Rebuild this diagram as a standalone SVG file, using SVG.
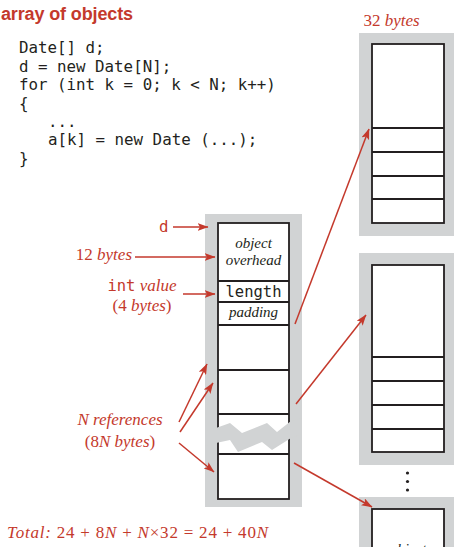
<svg xmlns="http://www.w3.org/2000/svg" width="454" height="547" viewBox="0 0 454 547">
<defs>
<style>
.red{fill:#c4392c}
.title{font-family:"Liberation Sans",Arial,sans-serif;font-weight:bold;font-size:18px}
.code{font-family:"DejaVu Sans Mono","Liberation Mono",monospace;font-size:15.8px;fill:#231f20}
.mono{font-family:"DejaVu Sans Mono","Liberation Mono",monospace}
.lbl{font-family:"Liberation Serif","Times New Roman",serif;font-size:17px;fill:#c4392c}
.it{font-style:italic}
.cell{font-family:"Liberation Serif","Times New Roman",serif;font-style:italic;font-size:15px;fill:#231f20;text-anchor:middle}
.frame{fill:#d1d3d4}
.box{fill:#fff;stroke:#231f20;stroke-width:1.8}
.div{stroke:#231f20;stroke-width:1.8}
.arr{stroke:#c4392c;stroke-width:1.5;fill:none;marker-end:url(#ah)}
</style>
<marker id="ah" markerUnits="userSpaceOnUse" markerWidth="11" markerHeight="8" refX="10.5" refY="4" orient="auto">
<path d="M0,0 L11,4 L0,8 L2.5,4 z" fill="#c4392c"/>
</marker>
</defs>

<text class="title red" x="1" y="20" textLength="132">array of objects</text>

<g id="code" class="code">
<text x="19" y="53.3">Date[] d;</text>
<text x="19" y="71.7">d = new Date[N];</text>
<text x="19" y="90.1">for (int k = 0; k &lt; N; k++)</text>
<text x="19" y="108.5">{</text>
<text x="48" y="126.9">...</text>
<text x="48" y="145.3">a[k] = new Date (...);</text>
<text x="19" y="163.7">}</text>
</g>

<g id="array">
<rect class="frame" x="205" y="214" width="97" height="293"/>
<rect class="box" x="218" y="223" width="71" height="276"/>
<line class="div" x1="218" y1="281" x2="289" y2="281"/>
<line class="div" x1="218" y1="302" x2="289" y2="302"/>
<line class="div" x1="218" y1="325" x2="289" y2="325"/>
<line class="div" x1="218" y1="370" x2="289" y2="370"/>
<line class="div" x1="218" y1="414" x2="289" y2="414"/>
<line class="div" x1="218" y1="454" x2="289" y2="454"/>
<polygon class="frame" points="205,431 216,428 230,423 242,433 267,423 277,432 291,421 302,418 302,434 291,438 272,450 262,442 238,452 230,440 216,443 205,446"/>
<text class="cell" x="253.5" y="248">object</text>
<text class="cell" x="253.5" y="265">overhead</text>
<text class="mono" x="253.5" y="297" font-size="15.5" fill="#231f20" text-anchor="middle">length</text>
<text class="cell" x="253.5" y="317">padding</text>
</g>

<g id="obj1">
<text class="lbl it" x="391.5" y="26" text-anchor="middle"><tspan font-style="normal">32</tspan> bytes</text>
<rect class="frame" x="359" y="33" width="97" height="203"/>
<rect class="box" x="372" y="44" width="72" height="179"/>
<line class="div" x1="372" y1="128" x2="444" y2="128"/>
<line class="div" x1="372" y1="152" x2="444" y2="152"/>
<line class="div" x1="372" y1="176" x2="444" y2="176"/>
<line class="div" x1="372" y1="199" x2="444" y2="199"/>
</g>

<g id="obj2">
<rect class="frame" x="359" y="253" width="97" height="212"/>
<rect class="box" x="372" y="265" width="72" height="187"/>
<line class="div" x1="372" y1="357" x2="444" y2="357"/>
<line class="div" x1="372" y1="381" x2="444" y2="381"/>
<line class="div" x1="372" y1="405" x2="444" y2="405"/>
<line class="div" x1="372" y1="429" x2="444" y2="429"/>
</g>

<g id="dots" fill="#231f20">
<circle cx="407.5" cy="473" r="1.6"/>
<circle cx="407.5" cy="481.5" r="1.6"/>
<circle cx="407.5" cy="490" r="1.6"/>
</g>

<g id="obj3">
<rect class="frame" x="359" y="497" width="97" height="60"/>
<rect class="box" x="372" y="509" width="72" height="50"/>
<text class="cell" x="408" y="554">object</text>
</g>

<g id="labels">
<text class="mono red" x="159" y="232" font-size="15.8">d</text>
<text class="lbl" x="132" y="260" text-anchor="end">12 <tspan class="it">bytes</tspan></text>
<text class="lbl" x="142" y="291" text-anchor="middle"><tspan class="mono" font-size="15.5">int</tspan> <tspan class="it">value</tspan></text>
<text class="lbl" x="142" y="311" text-anchor="middle">(4 <tspan class="it">bytes</tspan>)</text>
<text class="lbl it" x="120" y="425" text-anchor="middle">N references</text>
<text class="lbl" x="120" y="447" text-anchor="middle">(8<tspan class="it">N bytes</tspan>)</text>
<text class="lbl" x="7" y="538" textLength="261" lengthAdjust="spacing"><tspan class="it">Total:</tspan> 24 + 8<tspan class="it">N</tspan> + <tspan class="it">N</tspan>×32 = 24 + 40<tspan class="it">N</tspan></text>
</g>

<g id="connectors">
<line class="arr" x1="173" y1="227" x2="208" y2="227"/>
<line class="arr" x1="135" y1="257" x2="215" y2="257"/>
<line class="arr" x1="183" y1="294" x2="215" y2="294"/>
<line class="arr" x1="179" y1="422" x2="207" y2="364"/>
<line class="arr" x1="180" y1="432" x2="213" y2="383"/>
<line class="arr" x1="179" y1="443" x2="214" y2="472"/>
<line class="arr" x1="295" y1="324" x2="369" y2="129"/>
<line class="arr" x1="296" y1="404" x2="366" y2="315"/>
<line class="arr" x1="294" y1="463" x2="372" y2="507"/>
</g>
</svg>
